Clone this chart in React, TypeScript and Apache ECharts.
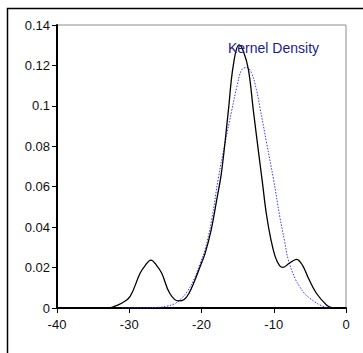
import React, { useEffect, useRef } from "react";
import * as echarts from "echarts";

const xTicks = [-40, -30, -20, -10, 0];
const yTicks = [0, 0.02, 0.04, 0.06, 0.08, 0.1, 0.12, 0.14];

const kernelX = [-33, -32.2, -31, -29.9, -28.5, -27.8, -27.0, -26.2, -25.5, -24.4, -23.2, -22.4, -21.7, -21.0, -20.2, -19.5, -18.7, -17.9, -17.2, -16.3, -15.6, -14.8, -14.2, -13.5, -12.8, -12.1, -11.6, -11.0, -10.4, -9.8, -9.2, -8.7, -7.9, -6.85, -6.0, -5.2, -4.1, -2.7, -2.0, -1.5];
const kernelY = [0, 0.0006, 0.0025, 0.0056, 0.0172, 0.021, 0.0237, 0.021, 0.0172, 0.0073, 0.0035, 0.0042, 0.0075, 0.013, 0.0204, 0.027, 0.038, 0.0534, 0.068, 0.097, 0.12, 0.1302, 0.127, 0.1178, 0.097, 0.077, 0.063, 0.046, 0.034, 0.0254, 0.021, 0.0201, 0.022, 0.0241, 0.021, 0.0147, 0.0073, 0.0015, 0.0002, 0];

const normalX = [-31, -28, -26, -24.8, -23.8, -23.0, -22.0, -21.0, -20.2, -19.5, -18.6, -17.67, -16.75, -15.8, -15.1, -14.44, -13.75, -13.1, -12.4, -11.9, -10.98, -10.06, -9.13, -8.5, -7.98, -7.06, -6.4, -5.7, -5.0, -4.3, -3.6, -2.7, -2.0];
const normalY = [0, 0.0001, 0.0003, 0.0009, 0.002, 0.004, 0.008, 0.0145, 0.022, 0.029, 0.0435, 0.0642, 0.0815, 0.098, 0.1095, 0.1178, 0.119, 0.1165, 0.108, 0.099, 0.0815, 0.0642, 0.0445, 0.033, 0.0238, 0.0147, 0.0105, 0.007, 0.0048, 0.003, 0.0015, 0.0003, 0];

const labelText = "Kernel Density";

export default function App() {
  const ref = useRef<HTMLDivElement>(null);
  useEffect(() => {
    if (!ref.current) return;
    const chart = echarts.init(ref.current, null, { renderer: "svg" });
    chart.setOption({
      animation: false,
      backgroundColor: "#ffffff",
      grid: {
        left: 57,
        right: 17,
        top: 25,
        bottom: 45,
        show: true,
        borderColor: "#8c8c8c",
        borderWidth: 1,
        backgroundColor: "transparent",
      },
      xAxis: {
        type: "value",
        min: xTicks[0],
        max: xTicks[xTicks.length - 1],
        interval: 10,
        splitLine: { show: false },
        axisLine: { show: true, onZero: false, lineStyle: { color: "#000", width: 2 } },
        axisTick: { show: true, length: 5, lineStyle: { color: "#000", width: 1 } },
        axisLabel: { color: "#111", fontFamily: "Liberation Sans, Arial", fontSize: 13, margin: 10 },
      },
      yAxis: {
        type: "value",
        min: yTicks[0],
        max: yTicks[yTicks.length - 1],
        interval: 0.02,
        splitLine: { show: false },
        axisLine: { show: true, onZero: false, lineStyle: { color: "#000", width: 2 } },
        axisTick: { show: true, length: 5, lineStyle: { color: "#000", width: 1 } },
        axisLabel: { color: "#111", fontFamily: "Liberation Sans, Arial", fontSize: 13, margin: 7 },
      },
      graphic: [
        {
          type: "rect",
          shape: { x: 7.5, y: 8.5, width: 500, height: 500 },
          style: { fill: "none", stroke: "#000", lineWidth: 1.5 },
          z: 0,
          silent: true,
        },
        {
          type: "text",
          x: 228,
          y: 41,
          style: {
            text: labelText,
            fill: "#1c1c8c",
            font: "14px 'Liberation Sans', Arial",
          },
          z: 100,
        },
      ],
      series: [
        {
          type: "line",
          data: normalX.map((x, i) => [x, normalY[i]]),
          smooth: 0.4,
          showSymbol: false,
          lineStyle: { color: "#3333ff", width: 1, type: [1.5, 1.5] },
          z: 2,
        },
        {
          type: "line",
          data: kernelX.map((x, i) => [x, kernelY[i]]),
          smooth: 0.4,
          showSymbol: false,
          lineStyle: { color: "#000", width: 1.3 },
          z: 3,
        },
      ],
    });
    return () => chart.dispose();
  }, []);
  return (
    <div
      ref={ref}
      style={{ position: "fixed", left: 0, top: 0, width: 363, height: 353 }}
    />
  );
}
